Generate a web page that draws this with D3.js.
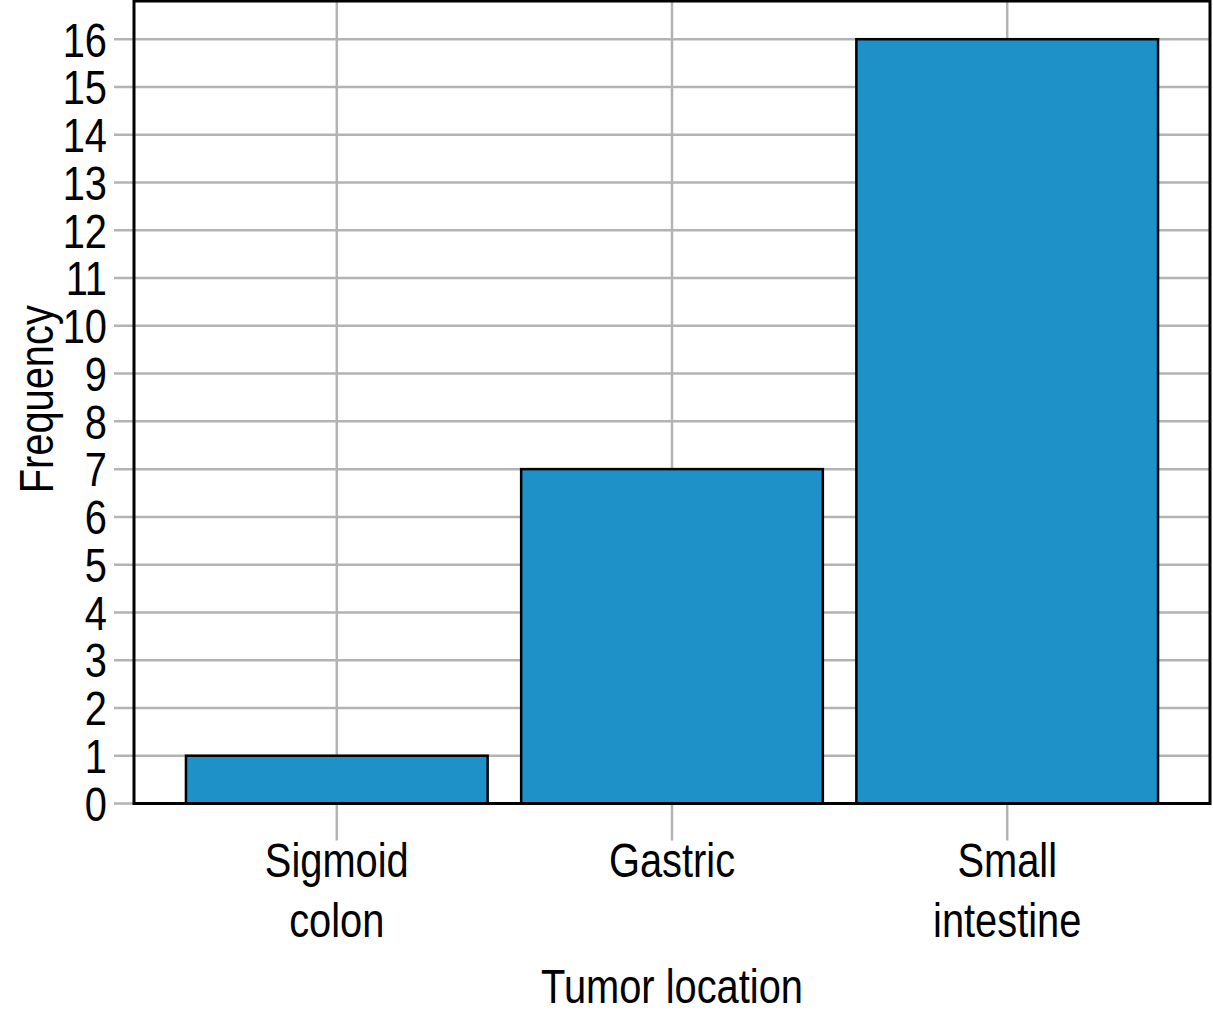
<!DOCTYPE html>
<html>
<head>
<meta charset="utf-8">
<script src="https://cdn.jsdelivr.net/npm/d3@7"></script>
<style>
  html, body { margin: 0; padding: 0; background: #fff; }
  svg text { font-family: "Liberation Sans Narrow", "Arial Narrow", "Liberation Sans", Arial, sans-serif; fill: #000; }
</style>
</head>
<body>
<svg id="chart" width="1213" height="1024"></svg>
<script>
const categories = [["Sigmoid", "colon"], ["Gastric"], ["Small", "intestine"]];
const categoryKeys = ["Sigmoid colon", "Gastric", "Small intestine"];
const frequencies = [1, 7, 16];
const yTicks = [0,1,2,3,4,5,6,7,8,9,10,11,12,13,14,15,16];
const xTitle = "Tumor location";
const yTitle = "Frequency";

(function () {
const svg = d3.select("#chart");
const mLeft = 134, mRight = 1210, mTop = 1, mBottom = 803.5;
const fontSize = 48;
const sx = 0.83; // horizontal condensing to mimic a narrow face

const x = d3.scaleBand().domain(categoryKeys).range([mLeft, mRight]).paddingInner(0.1).paddingOuter(0.155);
const y = d3.scaleLinear().domain([0, 16.8]).range([mBottom, mTop]);

// horizontal grid + ticks
svg.append("g").selectAll("line").data(yTicks).join("line")
  .attr("x1", mLeft - 20).attr("x2", mRight)
  .attr("y1", d => y(d)).attr("y2", d => y(d))
  .attr("stroke", "#b3b3b3").attr("stroke-width", 2.5);

// vertical grid + ticks
svg.append("g").selectAll("line").data(categoryKeys).join("line")
  .attr("x1", d => x(d) + x.bandwidth()/2).attr("x2", d => x(d) + x.bandwidth()/2)
  .attr("y1", mTop).attr("y2", mBottom + 37)
  .attr("stroke", "#b3b3b3").attr("stroke-width", 2.5);

// bars
svg.append("g").selectAll("rect").data(frequencies).join("rect")
  .attr("x", (d, i) => x(categoryKeys[i]))
  .attr("width", x.bandwidth())
  .attr("y", d => y(d))
  .attr("height", d => y(0) - y(d))
  .attr("fill", "#1f91c9")
  .attr("stroke", "#000").attr("stroke-width", 2.5);

// frame
svg.append("rect").attr("x", mLeft).attr("y", mTop).attr("width", mRight - mLeft).attr("height", mBottom - mTop)
  .attr("fill", "none").attr("stroke", "#000").attr("stroke-width", 3);

// y tick labels
svg.append("g").selectAll("text").data(yTicks).join("text")
  .attr("transform", d => `translate(107, ${y(d)}) scale(${sx},1)`)
  .attr("dy", "0.36em")
  .attr("text-anchor", "end").attr("font-size", fontSize)
  .text(d => d);

// x tick labels
const xl = svg.append("g").selectAll("text").data(categories).join("text")
  .attr("transform", (d, i) => `translate(${x(categoryKeys[i]) + x.bandwidth()/2}, 877) scale(${sx},1)`)
  .attr("text-anchor", "middle").attr("font-size", fontSize);
xl.selectAll("tspan").data(d => d).join("tspan")
  .attr("x", 0)
  .attr("dy", (d, i) => i === 0 ? 0 : 60)
  .text(d => d);

// axis titles
svg.append("text").attr("transform", `translate(${(mLeft + mRight) / 2}, 1003) scale(${sx},1)`)
  .attr("text-anchor", "middle").attr("font-size", fontSize).text(xTitle);
svg.append("text").attr("transform", `translate(53, ${(mTop + mBottom) / 2 - 3}) rotate(-90) scale(${sx},1)`)
  .attr("text-anchor", "middle").attr("font-size", fontSize).text(yTitle);
})();
</script>
</body>
</html>
